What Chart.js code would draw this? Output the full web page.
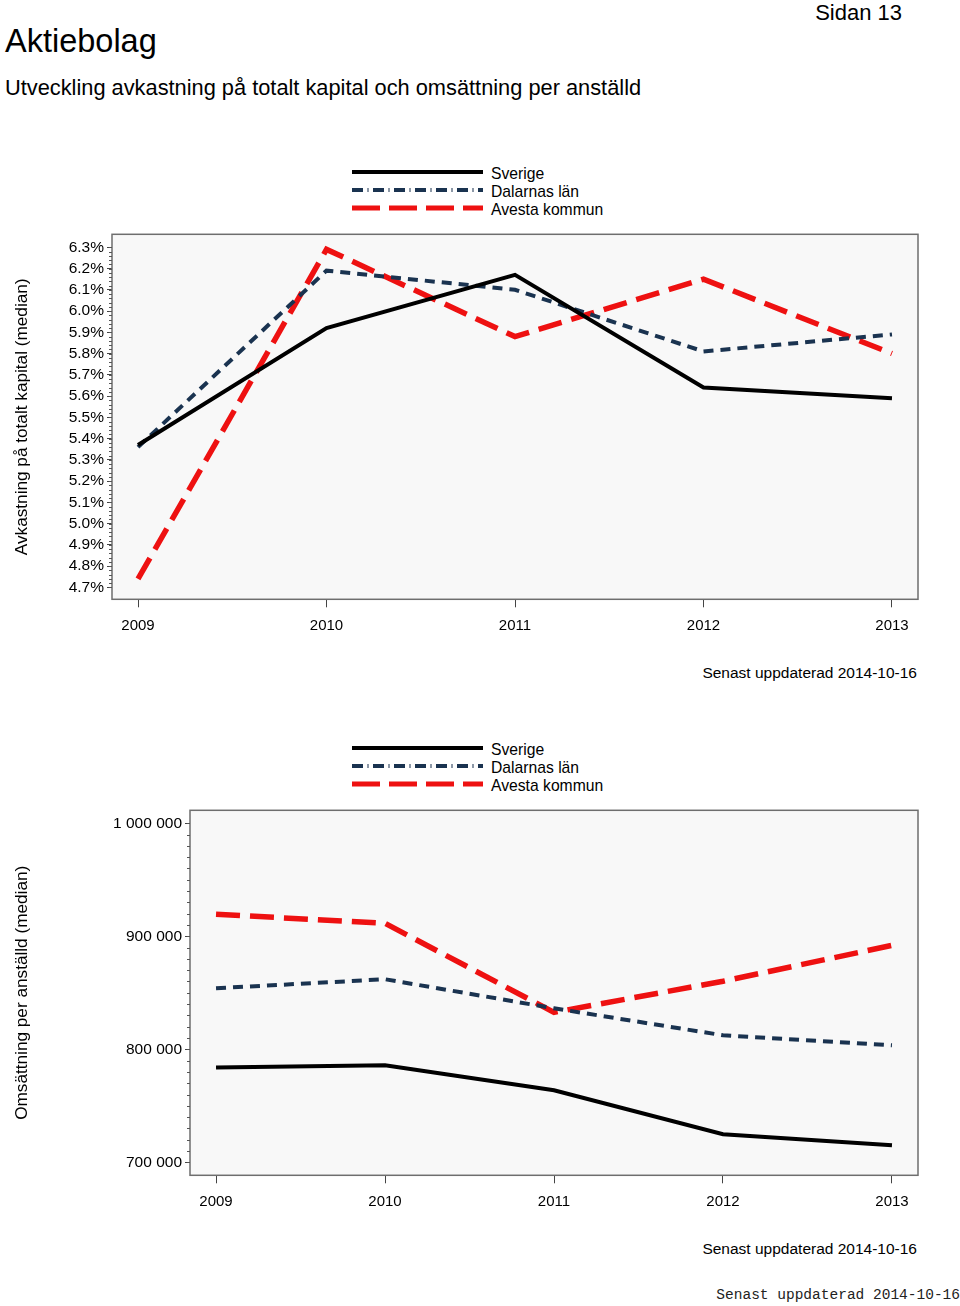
<!DOCTYPE html>
<html><head><meta charset="utf-8">
<script src="https://cdn.jsdelivr.net/npm/chart.js@4.4.1/dist/chart.umd.min.js"></script>
<style>
body{margin:0;width:960px;height:1306px;position:relative;background:#fff;font-family:"Liberation Sans",Arial,sans-serif;overflow:hidden}
.abs{position:absolute;white-space:nowrap;color:#000;line-height:1}
canvas{position:absolute;left:0}
</style></head><body>
<div class="abs" style="left:5px;top:25px;font-size:32.5px">Aktiebolag</div>
<div class="abs" style="left:5px;top:77px;font-size:21.8px">Utveckling avkastning på totalt kapital och omsättning per anställd</div>
<div class="abs" style="right:58px;top:2px;font-size:22px">Sidan 13</div>

<svg class="abs" style="left:0;top:0" width="960" height="1306" id="legsvg"></svg>
<div id="legtext"></div>

<div class="abs" style="right:43px;top:665px;font-size:15.5px">Senast uppdaterad 2014-10-16</div>
<div class="abs" style="right:43px;top:1241px;font-size:15.5px">Senast uppdaterad 2014-10-16</div>
<div class="abs" style="right:0;top:1288px;font-size:14.5px;font-family:'Liberation Mono','Courier New',monospace;color:#222">Senast uppdaterad 2014-10-16</div>

<div id="w1" style="position:absolute;left:0;top:225px;width:960px;height:420px"><canvas id="c1"></canvas></div>
<div id="w2" style="position:absolute;left:0;top:800px;width:960px;height:420px"><canvas id="c2"></canvas></div>

<script>
// ---- data ----
const years = ['2009','2010','2011','2012','2013'];
const seriesNames = ['Sverige','Dalarnas län','Avesta kommun'];
// Avkastning på totalt kapital (median), %
const avkSverige  = [5.37, 5.92, 6.17, 5.64, 5.59];
const avkDalarna  = [5.36, 6.19, 6.10, 5.81, 5.89];
const avkAvesta   = [4.74, 6.29, 5.88, 6.15, 5.80];
const avkTicks    = [4.7,4.8,4.9,5.0,5.1,5.2,5.3,5.4,5.5,5.6,5.7,5.8,5.9,6.0,6.1,6.2,6.3];
// Omsättning per anställd (median), kr
const omsSverige  = [784000, 785800, 763700, 724800, 715000];
const omsDalarna  = [854000, 862000, 836300, 812400, 803500];
const omsAvesta   = [919500, 911500, 832700, 860200, 892000];
const omsTicks    = [700000, 800000, 900000, 1000000];

const colors = ['#000000', '#1a3350', '#ee1111'];
const widths = [4, 4, 5.5];
const dashes = [[], [10, 7], [24, 10]];
const FONT = "'Liberation Sans', Arial, sans-serif";

// ---- legends (HTML/SVG) ----
const svg = document.getElementById('legsvg');
const legText = document.getElementById('legtext');
const legDash = ['', '11 4.5 1 4.5', '28 9'];
[[172,166],[748,742]].forEach(([y0,t0]) => {
  seriesNames.forEach((n,i) => {
    const y = y0 + i*18;
    const l = document.createElementNS('http://www.w3.org/2000/svg','line');
    l.setAttribute('x1',352); l.setAttribute('x2',483);
    l.setAttribute('y1',y); l.setAttribute('y2',y);
    l.setAttribute('stroke',colors[i]); l.setAttribute('stroke-width',i===2?5:widths[i]);
    if (legDash[i]) l.setAttribute('stroke-dasharray',legDash[i]);
    svg.appendChild(l);
    const d = document.createElement('div');
    d.className='abs'; d.style.left='491px'; d.style.top=(t0+i*18)+'px'; d.style.fontSize='15.7px';
    d.textContent = n;
    legText.appendChild(d);
  });
});

// ---- plugins ----
const bgPlugin = {
  id:'bgbox',
  beforeDraw(chart){
    const {ctx, chartArea:a} = chart;
    ctx.save();
    ctx.fillStyle='#f8f8f8';
    ctx.fillRect(a.left,a.top,a.right-a.left,a.bottom-a.top);
    ctx.restore();
  },
  afterDatasetsDraw(chart){
    const {ctx, chartArea:a} = chart;
    ctx.save();
    ctx.strokeStyle='#6e6e6e'; ctx.lineWidth=1.5;
    ctx.strokeRect(a.left,a.top,a.right-a.left,a.bottom-a.top);
    const ys = chart.scales.y, step = chart.options.plugins.bgbox.minor;
    ctx.strokeStyle='#555'; ctx.lineWidth=1;
    const t = chart.options.plugins.bgbox.ticks;
    for (let v=t[0]; v<=t[t.length-1]+1e-9; v+=step){
      const py = Math.round(ys.getPixelForValue(v))+0.5;
      ctx.beginPath(); ctx.moveTo(a.left-3,py); ctx.lineTo(a.left,py); ctx.stroke();
    }
    ctx.restore();
  }
};

function thousand(v){ return String(Math.round(v)).replace(/\B(?=(\d{3})+(?!\d))/g,' '); }

function makeChart(id, wid, wTop, vals, yTicks, yMin, yMax, xOff, yWidth, padTop, xHeight, yTitle, fmt, minor){
  const datasets = vals.map((arr,i)=>({
    label: seriesNames[i],
    data: arr.map((v,j)=>({x:Number(years[j]), y:v})),
    borderColor: colors[i], borderWidth: widths[i], borderDash: dashes[i],
    pointRadius:0, fill:false, tension:0, borderCapStyle:'butt', borderJoinStyle:'miter'
  }));
  const chart = new Chart(document.getElementById(id), {
    type:'line',
    data:{datasets},
    plugins:[bgPlugin],
    options:{
      responsive:true, maintainAspectRatio:false, animation:false,
      layout:{padding:{top:padTop,right:42,left:0,bottom:0}},
      plugins:{legend:{display:false}, tooltip:{enabled:false}, bgbox:{minor, ticks:yTicks}},
      scales:{
        x:{type:'linear', min:2009-xOff, max:2013+xOff,
           afterBuildTicks(s){ s.ticks = years.map(y=>({value:Number(y)})); },
           afterFit(s){ s.height = xHeight; },
           ticks:{callback:(v)=>String(v), color:'#000', font:{family:FONT,size:15}, padding:10, maxRotation:0, autoSkip:false},
           grid:{drawOnChartArea:false, drawTicks:true, tickLength:8, color:'#444', lineWidth:1},
           border:{display:false}},
        y:{min:yMin, max:yMax,
           afterBuildTicks(s){ s.ticks = yTicks.map(v=>({value:v})); },
           afterFit(s){ s.width = yWidth; },
           ticks:{callback:fmt, color:'#000', font:{family:FONT,size:15.5}, padding:3, autoSkip:false},
           grid:{drawOnChartArea:false, drawTicks:true, tickLength:5, color:'#444', lineWidth:1},
           border:{display:false},
           title:{display:true, text:yTitle, color:'#000', font:{family:FONT,size:17.2}, padding:{top:12,bottom:0}}}
      }
    }
  });
  const d = chart.chartArea.top - padTop;
  if (Math.abs(d) > 0.5) {
    const w = document.getElementById(wid);
    w.style.top = (wTop - d) + 'px';
    w.style.height = (420 + d) + 'px';
    chart.resize();
  }
  return chart;
}

makeChart('c1', 'w1', 225, [avkSverige, avkDalarna, avkAvesta], avkTicks, 4.644, 6.361, 0.138, 112, 9, 46,
  'Avkastning på totalt kapital (median)', v=>v.toFixed(1)+'%', 0.02);
makeChart('c2', 'w2', 800, [omsSverige, omsDalarna, omsAvesta], omsTicks, 688500, 1011500, 0.154, 190, 10, 45,
  'Omsättning per anställd (median)', v=>thousand(v), 10000);
</script>
</body></html>
